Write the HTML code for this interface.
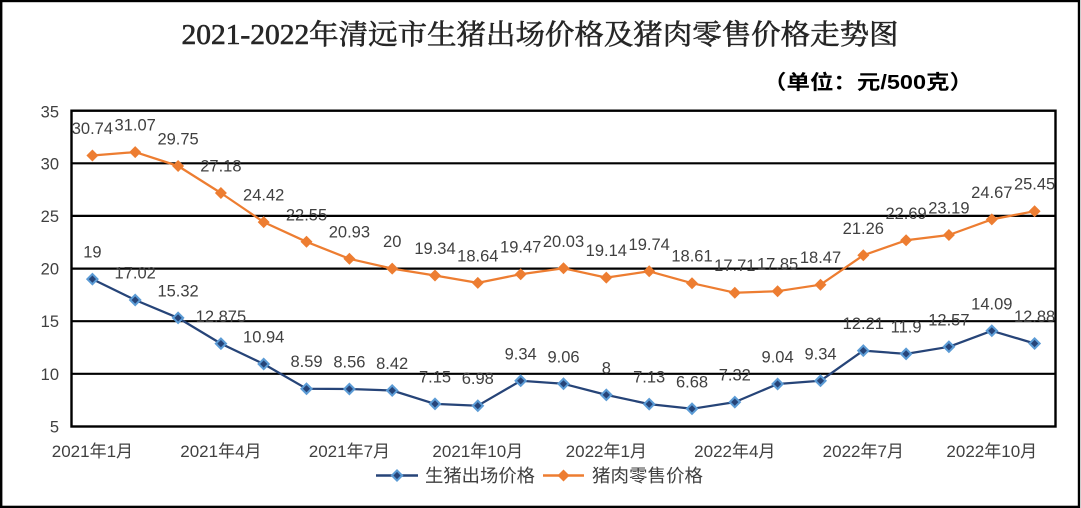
<!DOCTYPE html>
<html><head><meta charset="utf-8"><style>
html,body{margin:0;padding:0;background:#fff;}
svg{display:block;}
</style></head><body>
<svg width="1081" height="508" viewBox="0 0 1081 508" xmlns="http://www.w3.org/2000/svg">
<rect x="0" y="0" width="1081" height="508" fill="#fff"/>
<rect x="1.2" y="1" width="1077.8" height="505.9" fill="none" stroke="#000" stroke-width="2.4"/>
<text x="540" y="44" text-anchor="middle" font-family="'Liberation Serif','Noto Serif CJK SC',serif" font-weight="normal" font-size="28" fill="#262626" stroke="#262626" stroke-width="0.6" textLength="717" lengthAdjust="spacingAndGlyphs">2021-2022年清远市生猪出场价格及猪肉零售价格走势图</text>
<text x="868" y="89" text-anchor="middle" font-family="'Liberation Sans','Noto Sans CJK SC',sans-serif" font-weight="bold" font-size="20" fill="#000" textLength="210" lengthAdjust="spacingAndGlyphs">（单位：元/500克）</text>
<g stroke="#000" stroke-width="2.2">
<line x1="71.5" y1="163.3" x2="1055.5" y2="163.3"/>
<line x1="71.5" y1="215.9" x2="1055.5" y2="215.9"/>
<line x1="71.5" y1="268.6" x2="1055.5" y2="268.6"/>
<line x1="71.5" y1="321.2" x2="1055.5" y2="321.2"/>
<line x1="71.5" y1="373.8" x2="1055.5" y2="373.8"/>
</g>
<rect x="71.5" y="110.7" width="984" height="315.8" fill="none" stroke="#000" stroke-width="2.4"/>
<g font-family="'Liberation Sans','Noto Sans CJK SC',sans-serif" font-size="16.5" fill="#404040" text-anchor="end">
<text x="59" y="117.5">35</text>
<text x="59" y="169.5">30</text>
<text x="59" y="222">25</text>
<text x="59" y="274.5">20</text>
<text x="59" y="327">15</text>
<text x="59" y="380">10</text>
<text x="59" y="432.5">5</text>
</g>
<g font-family="'Liberation Sans','Noto Sans CJK SC',sans-serif" font-size="17" fill="#404040" text-anchor="middle">
<text x="92.4" y="457">2021年1月</text>
<text x="220.9" y="457">2021年4月</text>
<text x="349.4" y="457">2021年7月</text>
<text x="477.8" y="457">2021年10月</text>
<text x="606.3" y="457">2022年1月</text>
<text x="734.8" y="457">2022年4月</text>
<text x="863.3" y="457">2022年7月</text>
<text x="991.8" y="457">2022年10月</text>
</g>
<polyline fill="none" stroke="#ed7d31" stroke-width="2.25" stroke-linejoin="round" points="92.4,155.5 135.2,152.1 178.1,166.0 220.9,193.0 263.7,222.1 306.5,241.8 349.4,258.8 392.2,268.6 435.0,275.5 477.8,282.9 520.7,274.2 563.5,268.3 606.3,277.6 649.2,271.3 692.0,283.2 734.8,292.7 777.6,291.2 820.5,284.7 863.3,255.3 906.1,240.3 948.9,235.0 991.8,219.4 1034.6,211.2"/>
<polyline fill="none" stroke="#264478" stroke-width="2.25" stroke-linejoin="round" points="92.4,279.1 135.2,300.0 178.1,317.9 220.9,343.6 263.7,364.0 306.5,388.7 349.4,389.0 392.2,390.5 435.0,403.9 477.8,405.7 520.7,380.8 563.5,383.8 606.3,394.9 649.2,404.1 692.0,408.8 734.8,402.1 777.6,384.0 820.5,380.8 863.3,350.6 906.1,353.9 948.9,346.8 991.8,330.8 1034.6,343.5"/>
<defs>
<g id="od"><path d="M0,-6 L6,0 L0,6 L-6,0 Z" fill="#ed7d31"/></g>
<g id="bd"><path d="M0,-6.5 L6.5,0 L0,6.5 L-6.5,0 Z" fill="#5b9bd5"/><path d="M0,-3.6 L3.6,0 L0,3.6 L-3.6,0 Z" fill="#264478"/></g>
</defs>
<g>
<use href="#od" x="92.4" y="155.5"/><use href="#od" x="135.2" y="152.1"/><use href="#od" x="178.1" y="166.0"/><use href="#od" x="220.9" y="193.0"/><use href="#od" x="263.7" y="222.1"/><use href="#od" x="306.5" y="241.8"/><use href="#od" x="349.4" y="258.8"/><use href="#od" x="392.2" y="268.6"/><use href="#od" x="435.0" y="275.5"/><use href="#od" x="477.8" y="282.9"/><use href="#od" x="520.7" y="274.2"/><use href="#od" x="563.5" y="268.3"/><use href="#od" x="606.3" y="277.6"/><use href="#od" x="649.2" y="271.3"/><use href="#od" x="692.0" y="283.2"/><use href="#od" x="734.8" y="292.7"/><use href="#od" x="777.6" y="291.2"/><use href="#od" x="820.5" y="284.7"/><use href="#od" x="863.3" y="255.3"/><use href="#od" x="906.1" y="240.3"/><use href="#od" x="948.9" y="235.0"/><use href="#od" x="991.8" y="219.4"/><use href="#od" x="1034.6" y="211.2"/>
</g>
<g>
<use href="#bd" x="92.4" y="279.1"/><use href="#bd" x="135.2" y="300.0"/><use href="#bd" x="178.1" y="317.9"/><use href="#bd" x="220.9" y="343.6"/><use href="#bd" x="263.7" y="364.0"/><use href="#bd" x="306.5" y="388.7"/><use href="#bd" x="349.4" y="389.0"/><use href="#bd" x="392.2" y="390.5"/><use href="#bd" x="435.0" y="403.9"/><use href="#bd" x="477.8" y="405.7"/><use href="#bd" x="520.7" y="380.8"/><use href="#bd" x="563.5" y="383.8"/><use href="#bd" x="606.3" y="394.9"/><use href="#bd" x="649.2" y="404.1"/><use href="#bd" x="692.0" y="408.8"/><use href="#bd" x="734.8" y="402.1"/><use href="#bd" x="777.6" y="384.0"/><use href="#bd" x="820.5" y="380.8"/><use href="#bd" x="863.3" y="350.6"/><use href="#bd" x="906.1" y="353.9"/><use href="#bd" x="948.9" y="346.8"/><use href="#bd" x="991.8" y="330.8"/><use href="#bd" x="1034.6" y="343.5"/>
</g>
<g font-family="'Liberation Sans',sans-serif" font-size="16.5" fill="#404040" text-anchor="middle">
<text x="92.4" y="134">30.74</text><text x="135.2" y="130.6">31.07</text><text x="178.1" y="144.5">29.75</text><text x="220.9" y="171.5">27.18</text><text x="263.7" y="200.6">24.42</text><text x="306.5" y="220.3">22.55</text><text x="349.4" y="237.3">20.93</text><text x="392.2" y="247.1">20</text><text x="435.0" y="254">19.34</text><text x="477.8" y="261.4">18.64</text><text x="520.7" y="252.7">19.47</text><text x="563.5" y="246.8">20.03</text><text x="606.3" y="256.1">19.14</text><text x="649.2" y="249.8">19.74</text><text x="692.0" y="261.7">18.61</text><text x="734.8" y="271.2">17.71</text><text x="777.6" y="269.7">17.85</text><text x="820.5" y="263.2">18.47</text><text x="863.3" y="233.8">21.26</text><text x="906.1" y="218.8">22.69</text><text x="948.9" y="213.5">23.19</text><text x="991.8" y="197.9">24.67</text><text x="1034.6" y="189.7">25.45</text>
<text x="92.4" y="257.6">19</text><text x="135.2" y="278.5">17.02</text><text x="178.1" y="296.4">15.32</text><text x="220.9" y="322.1">12.875</text><text x="263.7" y="342.5">10.94</text><text x="306.5" y="367.2">8.59</text><text x="349.4" y="367.5">8.56</text><text x="392.2" y="369">8.42</text><text x="435.0" y="382.4">7.15</text><text x="477.8" y="384.2">6.98</text><text x="520.7" y="359.3">9.34</text><text x="563.5" y="362.3">9.06</text><text x="606.3" y="373.4">8</text><text x="649.2" y="382.6">7.13</text><text x="692.0" y="387.3">6.68</text><text x="734.8" y="380.6">7.32</text><text x="777.6" y="362.5">9.04</text><text x="820.5" y="359.3">9.34</text><text x="863.3" y="329.1">12.21</text><text x="906.1" y="332.4">11.9</text><text x="948.9" y="325.3">12.57</text><text x="991.8" y="309.3">14.09</text><text x="1034.6" y="322">12.88</text>
</g>
<line x1="376" y1="475.5" x2="418" y2="475.5" stroke="#264478" stroke-width="2.5"/>
<use href="#bd" x="397" y="475.5"/>
<text x="425" y="482" font-family="'Liberation Sans','Noto Sans CJK SC',sans-serif" font-size="18" fill="#404040" textLength="110" lengthAdjust="spacingAndGlyphs">生猪出场价格</text>
<line x1="543" y1="475.5" x2="584" y2="475.5" stroke="#ed7d31" stroke-width="2.5"/>
<use href="#od" x="563.5" y="475.5"/>
<text x="592" y="482" font-family="'Liberation Sans','Noto Sans CJK SC',sans-serif" font-size="18" fill="#404040" textLength="111" lengthAdjust="spacingAndGlyphs">猪肉零售价格</text>
</svg>
</body></html>
